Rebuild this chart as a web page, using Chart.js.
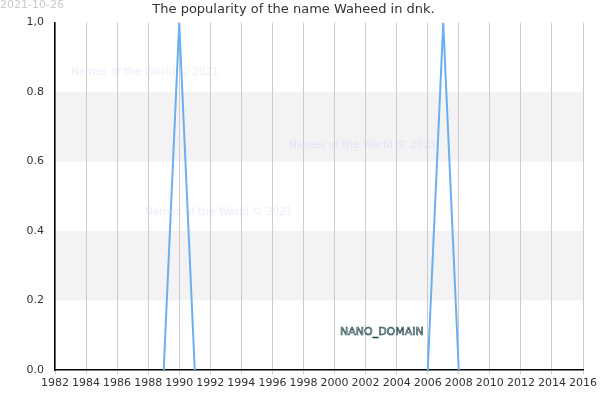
<!DOCTYPE html>
<html>
<head>
<meta charset="utf-8">
<script src="https://cdn.jsdelivr.net/npm/chart.js@4"></script>
<style>
  body { margin: 0; background: #fff; }
  #wrap { width: 600px; height: 400px; position: relative; }
  .wm { position: absolute; font-family: "DejaVu Sans"; font-size: 10.5px; color: rgba(200,200,255,0.35); white-space: nowrap; }
</style>
</head>
<body>
<div id="wrap">
  <canvas id="chart" width="600" height="400"></canvas>
  <div class="wm" style="left:71px;top:65px">Names of the World © 2021</div>
  <div class="wm" style="left:289px;top:138px">Names of the World © 2021</div>
  <div class="wm" style="left:145px;top:205px">Names of the World © 2021</div>
  <div style="position:absolute;left:0;top:-2px;font-family:'DejaVu Sans';font-size:11px;color:#ccc">2021-10-26</div>
  <div style="position:absolute;left:340px;top:325px;font-family:'DejaVu Sans';font-size:11px;color:#cde;-webkit-text-stroke:0.6px #244;">NANO_DOMAIN</div>
</div>
<script>
// popularity data points (null breaks the line)
const years = [1989, 1990, 1991, 1992, 2006, 2007, 2008];
const popularity = [0, 1, 0, null, 0, 1, 0];
const yTickLabels = { 0: '0.0', 0.2: '0.2', 0.4: '0.4', 0.6: '0.6', 0.8: '0.8', 1: '1,0' };

const bands = {
  id: 'bands',
  beforeDraw(chart) {
    const { ctx, chartArea: a, scales: { y } } = chart;
    ctx.save();
    ctx.fillStyle = '#f3f3f3';
    [[0.2, 0.4], [0.6, 0.8]].forEach(([lo, hi]) => {
      const t = y.getPixelForValue(hi), b = y.getPixelForValue(lo);
      ctx.fillRect(a.left, t, a.right - a.left, b - t);
    });
    ctx.restore();
  }
};

new Chart('chart', {
  type: 'line',
  data: {
    datasets: [{
      data: years.map((x, i) => ({ x: x, y: popularity[i] })),
      borderColor: '#6aaff0',
      borderWidth: 2,
      pointRadius: 0,
      tension: 0,
      spanGaps: false
    }]
  },
  plugins: [bands],
  options: {
    responsive: false,
    animation: false,
    layout: { padding: { right: 13 } },
    plugins: {
      legend: { display: false },
      tooltip: { enabled: false },
      title: {
        display: true,
        text: 'The popularity of the name Waheed in dnk.',
        color: '#333',
        font: { family: 'DejaVu Sans', size: 13, weight: 'normal' },
        padding: { top: 2, bottom: 5 }
      }
    },
    scales: {
      x: {
        type: 'linear', min: 1982, max: 2016,
        afterFit: s => { s.height = 30; },
        ticks: { stepSize: 2, maxRotation: 0, autoSkip: false, color: '#333', font: { family: 'DejaVu Sans', size: 11 }, callback: v => String(v) },
        grid: { color: '#ccc', drawTicks: true, tickLength: 4 },
        border: { color: '#000', width: 1.5 }
      },
      y: {
        min: 0, max: 1,
        afterFit: s => { s.width = 55; },
        ticks: { stepSize: 0.2, color: '#333', font: { family: 'DejaVu Sans', size: 11 }, callback: v => yTickLabels[Math.round(v * 10) / 10] },
        grid: { display: false },
        border: { color: '#000', width: 1.5 }
      }
    }
  }
});
</script>
</body>
</html>
